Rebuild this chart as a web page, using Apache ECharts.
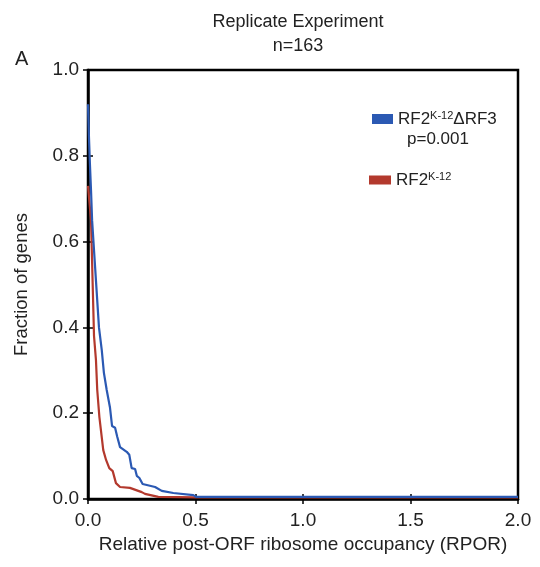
<!DOCTYPE html>
<html lang="en">
<head>
    <meta charset="utf-8">
    <title>Replicate Experiment</title>
    <script type="text/javascript" src="https://cdn.jsdelivr.net/npm/echarts@6/dist/echarts.min.js"></script>
</head>
<body style="margin:0">
<div id="main" style="width: 540px;height:567px;"></div>
<script>
    // RPOR values (x) and fraction of genes (y)
    var blueX = [0.000, 0.004, 0.009, 0.014, 0.019, 0.051, 0.064, 0.074, 0.087, 0.102, 0.112, 0.126, 0.136, 0.149,
        0.180, 0.192, 0.203, 0.219, 0.227, 0.239, 0.254, 0.312, 0.343, 0.397, 0.490, 0.502, 2.000];
    var blueY = [0.92, 0.85, 0.78, 0.72, 0.65, 0.40, 0.347, 0.294, 0.254, 0.214, 0.170, 0.166, 0.145, 0.121,
        0.110, 0.103, 0.072, 0.070, 0.054, 0.049, 0.035, 0.028, 0.019, 0.014, 0.009, 0.005, 0.005];
    var redX = [0.000, 0.014, 0.028, 0.037, 0.043, 0.053, 0.071, 0.084, 0.099, 0.115, 0.130, 0.149,
        0.195, 0.250, 0.265, 0.327, 0.500, 2.000];
    var redY = [0.73, 0.65, 0.38, 0.324, 0.254, 0.191, 0.114, 0.091, 0.072, 0.065, 0.037, 0.028,
        0.026, 0.016, 0.012, 0.005, 0.004, 0.004];
    var xTicks = [0, 0.5, 1.0, 1.5, 2.0];
    var yTicks = [0, 0.2, 0.4, 0.6, 0.8, 1.0];

    var blueName = 'RF2K-12ΔRF3';
    var redName = 'RF2K-12';
    var font = '"Liberation Sans", Arial, sans-serif';

    function pairs(xs, ys) {
        var out = [];
        for (var i = 0; i < xs.length; i++) out.push([xs[i], ys[i]]);
        return out;
    }

    var chartDom = document.getElementById('main');
    var myChart = echarts.init(chartDom);
    var option;

    var tickStyle = {show: true, inside: true, length: 5, lineStyle: {color: '#000', width: 1.5}};
    var legendRich = {
        a: {fontSize: 17, color: '#222', fontFamily: font},
        s: {fontSize: 11, color: '#222', verticalAlign: 'top', padding: [0, 0, 7, 0], fontFamily: font}
    };

    option = {
        animation: false,
        textStyle: {fontFamily: font},
        title: {
            text: 'Replicate Experiment\nn=163',
            left: 298,
            textAlign: 'center',
            top: 10,
            padding: 0,
            textStyle: {fontSize: 18, fontWeight: 'normal', color: '#222', lineHeight: 24, fontFamily: font}
        },
        graphic: [
            {type: 'text', left: 15, top: 49, style: {text: 'A', fontSize: 20, fill: '#222', fontFamily: font}},
            {type: 'text', left: 407, top: 131, style: {text: 'p=0.001', fontSize: 17, fill: '#222', fontFamily: font}}
        ],
        legend: [
            {
                data: [blueName], left: 372, top: 110, padding: 0, itemWidth: 21, itemHeight: 10, icon: 'rect',
                itemGap: 6,
                formatter: function () { return '{a|RF2}{s|K-12}{a|ΔRF3}'; },
                textStyle: {rich: legendRich}
            },
            {
                data: [redName], left: 369, top: 171, padding: 0, itemWidth: 22, itemHeight: 9, icon: 'rect',
                itemGap: 6,
                formatter: function () { return '{a|RF2}{s|K-12}'; },
                textStyle: {rich: legendRich}
            }
        ],
        grid: {
            left: 88, top: 70, right: 22, bottom: 68,
            show: true, borderColor: '#000', borderWidth: 2.5, backgroundColor: '#fff'
        },
        xAxis: [
            {
                type: 'value', min: 0, max: 2, interval: 0.5,
                name: 'Relative post-ORF ribosome occupancy (RPOR)',
                nameLocation: 'middle', nameGap: 35,
                nameTextStyle: {fontSize: 19, color: '#222', fontFamily: font},
                axisLine: {show: true, lineStyle: {color: '#000', width: 2.5}},
                axisTick: tickStyle,
                axisLabel: {fontSize: 19, color: '#222', margin: 12, fontFamily: font,
                    formatter: function (v) { return v.toFixed(1); }},
                splitLine: {show: false}
            },
            {
                type: 'value', min: 0, max: 2, interval: 0.5, position: 'top',
                axisLine: {show: false}, axisTick: tickStyle, axisLabel: {show: false}, splitLine: {show: false}
            }
        ],
        yAxis: [
            {
                type: 'value', min: 0, max: 1, interval: 0.2,
                name: 'Fraction of genes',
                nameLocation: 'middle', nameGap: 57,
                nameTextStyle: {fontSize: 18.5, color: '#222', fontFamily: font},
                axisLine: {show: true, lineStyle: {color: '#000', width: 2.5}},
                axisTick: tickStyle,
                axisLabel: {fontSize: 19, color: '#222', margin: 9, fontFamily: font,
                    formatter: function (v) { return v.toFixed(1); }},
                splitLine: {show: false}
            },
            {
                type: 'value', min: 0, max: 1, interval: 0.2, position: 'right',
                axisLine: {show: false}, axisTick: tickStyle, axisLabel: {show: false}, splitLine: {show: false}
            }
        ],
        series: [
            {
                name: redName, type: 'line', data: pairs(redX, redY), showSymbol: false,
                color: '#b3392d', lineStyle: {width: 2.2, color: '#b3392d'}
            },
            {
                name: blueName, type: 'line', data: pairs(blueX, blueY), showSymbol: false,
                color: '#2b59b3', lineStyle: {width: 2.2, color: '#2b59b3'}
            }
        ]
    };

    myChart.setOption(option);
</script>
</body>
</html>
